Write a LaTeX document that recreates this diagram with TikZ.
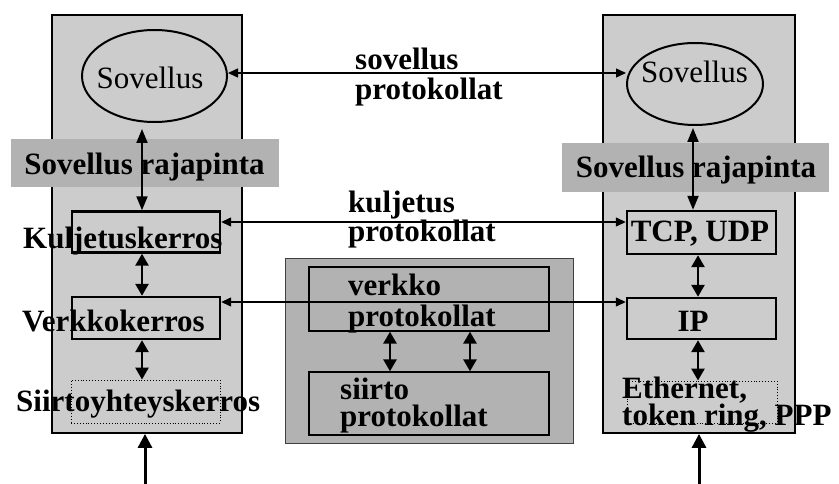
\documentclass[tikz,border=0pt]{standalone}
\usepackage{fontspec}
\setmainfont{Liberation Serif}
\usetikzlibrary{arrows.meta,shapes.geometric}
\definecolor{panelgray}{HTML}{CCCCCC}
\definecolor{bandgray}{HTML}{B2B2B2}
\tikzset{
  panel/.style={draw=black,line width=1.8pt,fill=panelgray,rectangle,inner sep=0pt},
  band/.style={fill=bandgray,rectangle,inner sep=0pt,draw=none},
  layerbox/.style={draw=black,line width=2.4pt,rectangle,inner sep=0pt},
  dotbox/.style={draw=black,dotted,line width=0.9pt,rectangle,inner sep=0pt},
  appell/.style={draw=black,line width=2pt,ellipse,inner sep=0pt},
  midbox/.style={draw=black!75,line width=1pt,fill=bandgray,rectangle,inner sep=0pt},
  innerbox/.style={draw=black,line width=1.3pt,rectangle,inner sep=0pt},
  btxt/.style={font=\fontsize{31}{30}\selectfont\bfseries,inner sep=0pt},
  rtxt/.style={font=\fontsize{31}{30}\selectfont,inner sep=0pt},
  thinarrow/.style={line width=1.3pt,{Triangle[width=9pt,length=10pt]}-{Triangle[width=9pt,length=10pt]}},
  medarrow/.style={line width=2pt,{Triangle[width=11pt,length=14pt]}-{Triangle[width=11pt,length=14pt]}},
  thickarrow/.style={line width=2.6pt,{Triangle[width=13pt,length=12pt]}-{Triangle[width=13pt,length=12pt]}},
  feedarrow/.style={line width=3pt,-{Triangle[width=14pt,length=14pt]}},
}
\begin{document}
\begin{tikzpicture}[x=1pt,y=-1pt]
\useasboundingbox (0,0) rectangle (839,484);
% panels
\node[panel,minimum width=190pt,minimum height=418pt] (lpanel) at (147,224) {};
\node[panel,minimum width=192pt,minimum height=418pt] (rpanel) at (699,224) {};
% middle box
\node[midbox,minimum width=288pt,minimum height=184pt] (mid) at (429,351) {};
\node[innerbox,minimum width=240pt,minimum height=64pt] (vp) at (429,299) {};
\node[innerbox,minimum width=240pt,minimum height=63pt] (sp) at (429,403.5) {};
% bands
\node[band,minimum width=268pt,minimum height=48pt] (lband) at (145,163) {};
\node[band,minimum width=267pt,minimum height=49pt] (rband) at (695.5,167.5) {};
% ellipses
\node[appell,minimum width=145pt,minimum height=92pt] (lell) at (154.5,76) {};
\node[appell,minimum width=136pt,minimum height=82pt] (rell) at (695,84) {};
% layer boxes
\node[layerbox,minimum width=148pt,minimum height=41pt] (kbox) at (146,232) {};
\node[layerbox,minimum width=148pt,minimum height=42pt] (vbox) at (146,318) {};
\node[dotbox,minimum width=149pt,minimum height=43pt] (sbox) at (145.5,401.5) {};
\node[layerbox,minimum width=149pt,minimum height=43pt] (tcp) at (701.5,232.5) {};
\node[layerbox,minimum width=149pt,minimum height=41pt] (ip) at (701.5,318.5) {};
\node[dotbox,minimum width=150pt,minimum height=42pt] (ebox) at (702,402) {};
% texts
\node[rtxt,anchor=base] (lsov) at (150,89) {Sovellus};
\node[rtxt,anchor=base] (rsov) at (694.5,83) {Sovellus};
\node[btxt,anchor=base] (lraj) at (144.5,175) {Sovellus rajapinta};
\node[btxt,anchor=base] (rraj) at (696,178) {Sovellus rajapinta};
\node[btxt,anchor=base west] (kulj) at (23,248) {Kuljetuskerros};
\node[btxt,anchor=base west] (verk) at (22,331) {Verkkokerros};
\node[btxt,anchor=base west] (siir) at (16,411) {Siirtoyhteyskerros};
\node[btxt,anchor=base] (tcptxt) at (700,241) {TCP, UDP};
\node[btxt,anchor=base] (iptxt) at (693,331) {IP};
\node[btxt,anchor=base west] (eth) at (622,398) {\vtop{\baselineskip=25pt\hbox{Ethernet,}\hbox{token ring, PPP}}};
\node[btxt,anchor=base west] (sovp) at (355,70) {\vtop{\baselineskip=30pt\hbox{sovellus}\hbox{protokollat}}};
\node[btxt,anchor=base west] (kulp) at (348,213) {\vtop{\baselineskip=29pt\hbox{kuljetus}\hbox{protokollat}}};
\node[btxt,anchor=base west] (verp) at (348,295) {\vtop{\baselineskip=31pt\hbox{verkko}\hbox{protokollat}}};
\node[btxt,anchor=base west] (siip) at (340,399) {\vtop{\baselineskip=28pt\hbox{siirto}\hbox{protokollat}}};
% helper coordinates
\coordinate (yS) at (0,73);
\coordinate (yK) at (0,222);
\coordinate (yV) at (0,302);
\coordinate (xL) at (142,0);
\coordinate (xR) at (693,0);
\coordinate (xR2) at (698,0);
\coordinate (xM1) at (390,0);
\coordinate (xM2) at (470,0);
\coordinate (bl) at (145,484);
\coordinate (br) at (699,484);
% horizontal peer arrows
\draw[thinarrow] (lell.east |- yS) -- (rell.west |- yS);
\draw[thinarrow] (kbox.east |- yK) -- (tcp.west |- yK);
\draw[thinarrow] (vbox.east |- yV) -- (ip.west |- yV);
% vertical arrows
\draw[medarrow] (xL |- lell.south) ++(0,6) -- (xL |- kbox.north);
\draw[medarrow] (xR |- rell.south) ++(0,2) -- (xR |- tcp.north);
\draw[thickarrow] (xL |- kbox.south) -- (xL |- vbox.north);
\draw[thickarrow] (xL |- vbox.south) -- (xL |- sbox.north);
\draw[thickarrow] (xR2 |- tcp.south) -- (xR2 |- ip.north);
\draw[thickarrow] (xR2 |- ip.south) -- (xR2 |- ebox.north);
\draw[thickarrow] (xM1 |- vp.south) -- (xM1 |- sp.north);
\draw[thickarrow] (xM2 |- vp.south) -- (xM2 |- sp.north);
% feeds from below
\draw[feedarrow] (bl) -- (bl |- lpanel.south);
\draw[feedarrow] (br) -- (br |- rpanel.south);
\end{tikzpicture}
\end{document}
